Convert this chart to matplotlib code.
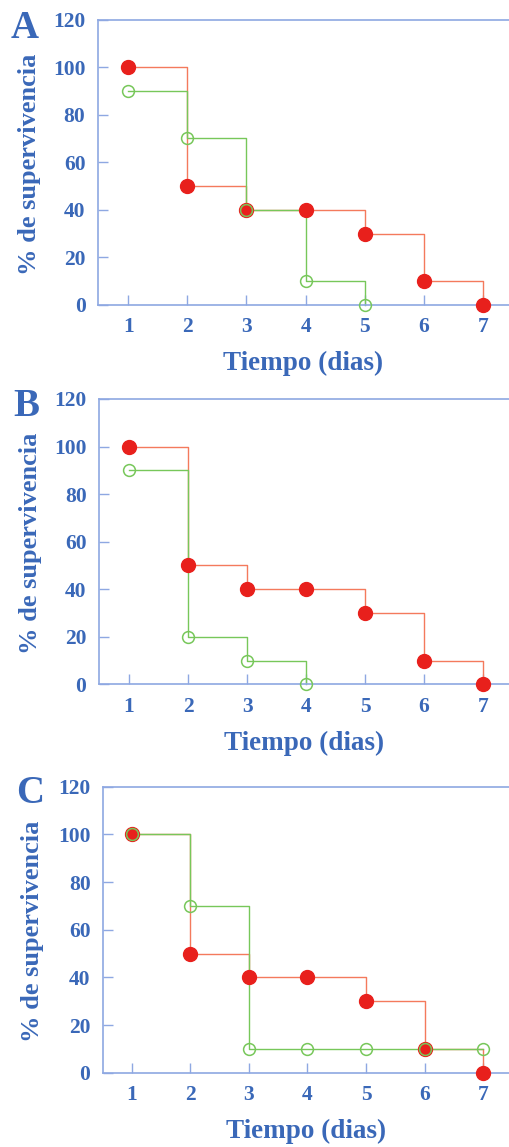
import matplotlib
matplotlib.use("Agg")
import matplotlib.pyplot as plt

# datos (dias vs % de supervivencia)
dias = [1, 2, 3, 4, 5, 6, 7]
rojo_A = [100, 50, 40, 40, 30, 10, 0]
verde_A = [90, 70, 40, 10, 0]
rojo_B = [100, 50, 40, 40, 30, 10, 0]
verde_B = [90, 20, 10, 0]
rojo_C = [100, 50, 40, 40, 30, 10, 0]
verde_C = [100, 70, 10, 10, 10, 10, 10]
yticks = [0, 20, 40, 60, 80, 100, 120]
letras = ["A", "B", "C"]

AZUL = "#3a68b8"
EJE = "#8ea8e2"
ROJO = "#e8201c"
ROJO_L = "#f47a5c"
VERDE = "#77c75a"

plt.rcParams["font.family"] = ["Liberation Serif", "DejaVu Serif"]
plt.rcParams["font.weight"] = "bold"

W, H = 509, 1147
fig = plt.figure(figsize=(W / 100, H / 100), dpi=100)

# (left, top, bottom) en pixeles para cada panel
paneles = [(98, 19.5, 305), (99, 399, 684.3), (103, 786.7, 1072.7)]
letra_pos = [(11, 10), (13, 388), (16, 775)]
xlabel_y = [363, 743, 1131]
ylabel_x = [30, 31, 33]
xmin = [0.49, 0.49, 0.51]
series = [(rojo_A, verde_A), (rojo_B, verde_B), (rojo_C, verde_C)]

for i in range(3):
    l, t, b = paneles[i]
    ax = fig.add_axes([l / W, 1 - b / H, 1 - l / W, (b - t) / H])
    rojo, verde = series[i]
    xr = dias[:len(rojo)]
    xv = dias[:len(verde)]
    ax.step(xr, rojo, where="post", color=ROJO_L, lw=1.0, zorder=2)
    ax.plot(xr, rojo, "o", color=ROJO, ms=10, mec=ROJO, zorder=3)
    ax.step(xv, verde, where="post", color=VERDE, lw=1.0, zorder=2)
    ax.plot(xv, verde, "o", mfc="none", mec=VERDE, ms=8.5, mew=1.1, zorder=4)

    ax.set_xlim(xmin[i], 7.44)
    ax.set_ylim(0, 120)
    ax.set_xticks(dias)
    ax.set_yticks(yticks)
    ax.spines["right"].set_visible(False)
    for s in ["left", "top", "bottom"]:
        ax.spines[s].set_color(EJE)
        ax.spines[s].set_linewidth(1.2)
    ax.tick_params(direction="in", length=7, width=1, color=EJE,
                   labelcolor=AZUL, labelsize=15.5, pad=9)
    for lab in ax.get_xticklabels() + ax.get_yticklabels():
        lab.set_fontweight("bold")
    for art in ax.lines:
        art.set_clip_on(False)

    cx = (l + W) / 2
    fig.text(cx / W, 1 - xlabel_y[i] / H, "Tiempo (dias)", color=AZUL,
             fontsize=19.5, fontweight="bold", ha="center", va="center")
    fig.text(ylabel_x[i] / W, 1 - ((t + b) / 2 + 2) / H, "% de supervivencia",
             color=AZUL, fontsize=19, fontweight="bold", rotation=90,
             ha="center", va="center")
    lx, ly = letra_pos[i]
    fig.text(lx / W, 1 - ly / H, letras[i], color=AZUL, fontsize=28,
             fontweight="bold", ha="left", va="top")

fig.savefig("out.png", dpi=100)
